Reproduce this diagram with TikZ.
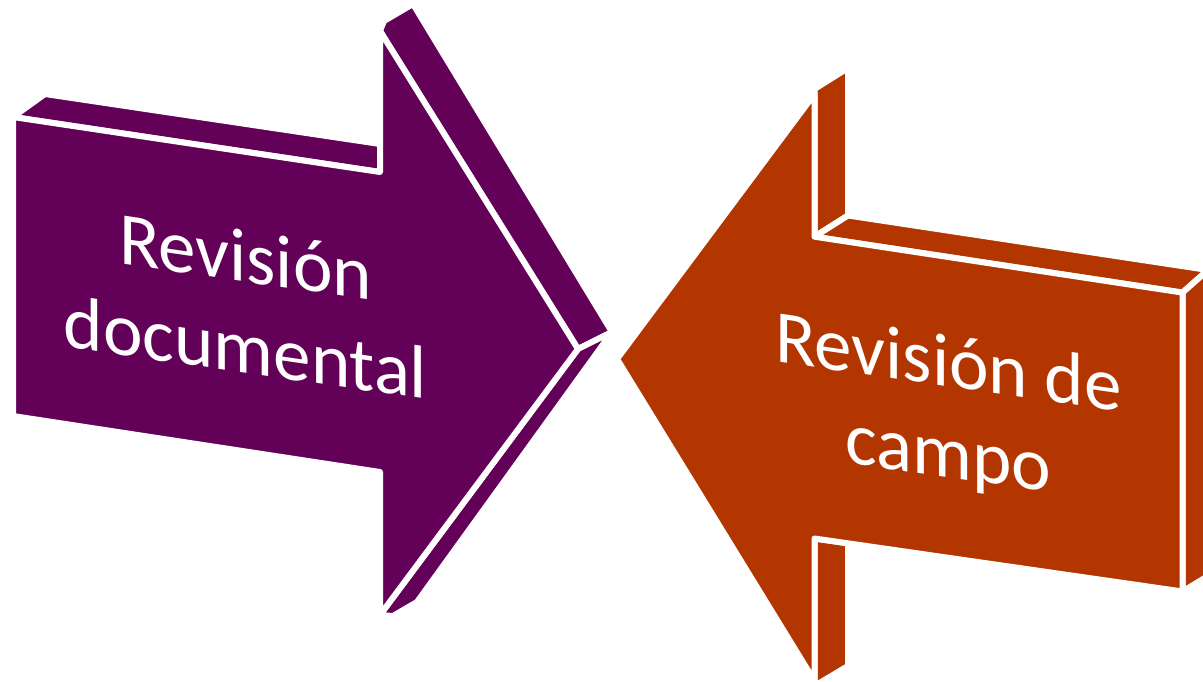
\documentclass[tikz,border=0pt]{standalone}
\usepackage{fontspec}
\setmainfont{Carlito}
\usepackage{tikz}
\definecolor{revpurple}{RGB}{99,0,87}
\definecolor{revorange}{RGB}{179,53,0}
\tikzset{face/.style={fill=#1, draw=white, line width=6pt, line join=round},
  lbl/.style={text=white, align=center, inner sep=0pt, yslant=-0.145,
    font=\fontsize{75}{91}\selectfont}}

\begin{document}
\begin{tikzpicture}[x=1pt,y=-1pt]
	\useasboundingbox (0,0) rectangle (1203,682);
	\clip (0,0) rectangle (1203,682);

	% purple arrow, pointing right
	\draw[face=revpurple] (13,117) -- (45,94) -- (380,144) -- (380,172) -- cycle;
	\draw[face=revpurple] (380,31) -- (384,21) -- (413,4) -- (612,332) -- (578,349) -- cycle;
	\draw[face=revpurple] (578,349) -- (612,332) -- (417,602) -- (393,616) -- (380,615) -- cycle;
	\draw[face=revpurple] (13,117) -- (380,172) -- (380,31) -- (578,349) -- (380,615)
		-- (380,472) -- (13,416) -- cycle;

	% orange arrow, pointing left
	\draw[face=revorange] (814.5,236.7) -- (814.5,89) -- (848,68) -- (848,215.5) -- cycle;
	\draw[face=revorange] (814.5,236.7) -- (848,215.5) -- (1208,270) -- (1182.5,292.6) -- cycle;
	\draw[face=revorange] (1182.5,292.6) -- (1208,270) -- (1208,576) -- (1182.5,591.5) -- cycle;
	\draw[face=revorange] (814.5,538.5) -- (848,543.4) -- (848,666) -- (814.5,686) -- cycle;
	\draw[face=revorange] (617,359) -- (814.5,94) -- (814.5,236.7) -- (1182.5,292.6)
		-- (1182.5,591.5) -- (814.5,538.5) -- (814.5,681) -- cycle;

	\node[lbl] (pdoc) at (245.5,302) {Revisión\\documental};
	\node[lbl] (ocampo) at (948.5,412) {Revisión de\\campo};
\end{tikzpicture}
\end{document}
